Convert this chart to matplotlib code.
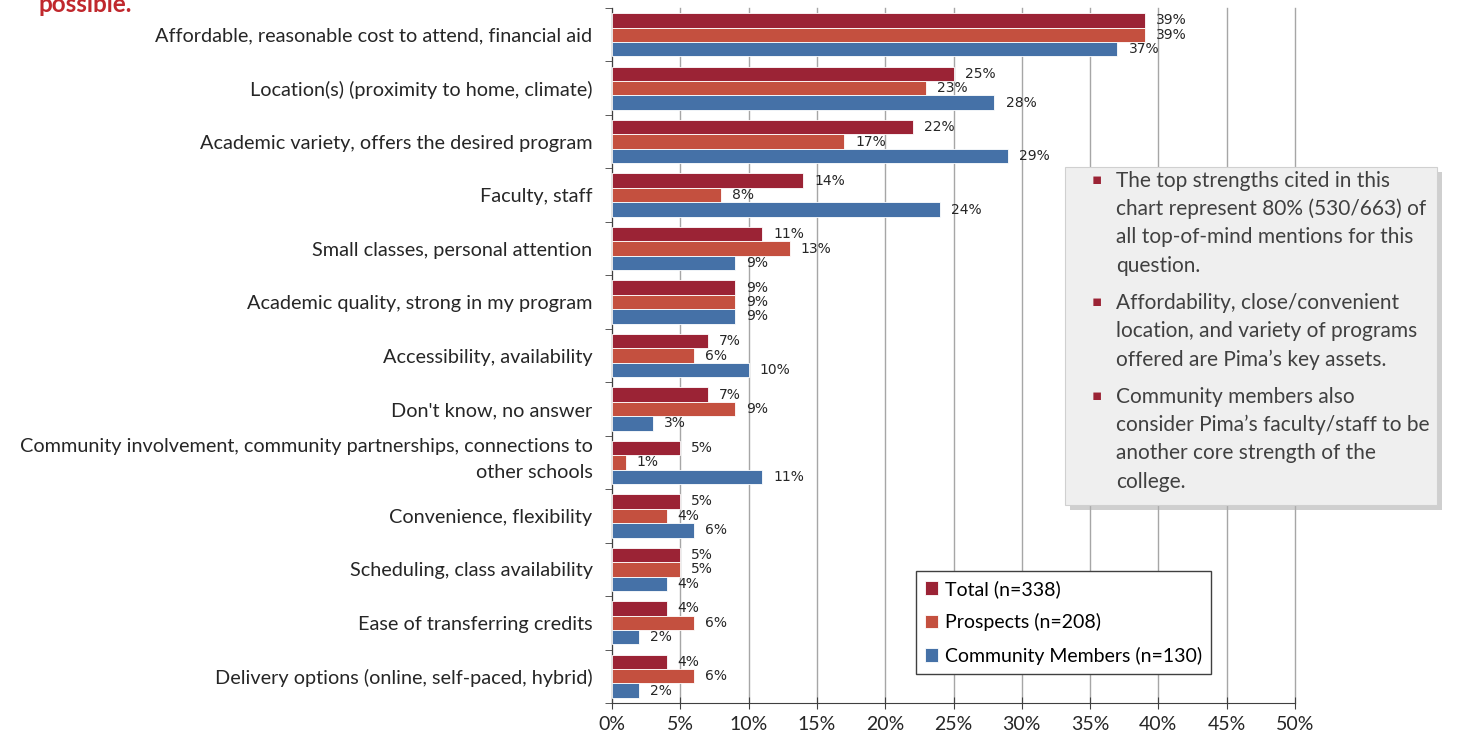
import matplotlib.pyplot as plt
import numpy as np

categories = [
    "Affordable, reasonable cost to attend, financial aid",
    "Location(s) (proximity to home, climate)",
    "Academic variety, offers the desired program",
    "Faculty, staff",
    "Small classes, personal attention",
    "Academic quality, strong in my program",
    "Accessibility, availability",
    "Don't know, no answer",
    "Community involvement, community partnerships, connections to\nother schools",
    "Convenience, flexibility",
    "Scheduling, class availability",
    "Ease of transferring credits",
    "Delivery options (online, self-paced, hybrid)",
]
total = [39, 25, 22, 14, 11, 9, 7, 7, 5, 5, 5, 4, 4]
prospects = [39, 23, 17, 8, 13, 9, 6, 9, 1, 4, 5, 6, 6]
community = [37, 28, 29, 24, 9, 9, 10, 3, 11, 6, 4, 2, 2]
series_names = ["Total (n=338)", "Prospects (n=208)", "Community Members (n=130)"]
colors = ["#9B2335", "#C4503F", "#4571A7"]

notes = [
    ["The top strengths cited in this", "chart represent 80% (530/663) of",
     "all top-of-mind mentions for this", "question."],
    ["Affordability, close/convenient", "location, and variety of programs",
     "offered are Pima\u2019s key assets."],
    ["Community members also", "consider Pima\u2019s faculty/staff to be",
     "another core strength of the", "college."],
]

W, H = 1461, 733
fig = plt.figure(figsize=(W / 100, H / 100), dpi=100)
ax = fig.add_axes([612 / W, 1 - 703 / H, (1295 - 612) / W, (703 - 8) / H])

y = np.arange(len(categories))
h = 0.27
for k, (vals, off) in enumerate(zip([total, prospects, community], [-h, 0, h])):
    bars = ax.barh(y + off, vals, height=h, color=colors[k], edgecolor="white",
                   linewidth=0.6, label=series_names[k], zorder=3)
    for b, v in zip(bars, vals):
        ax.annotate(f"{v}%", (b.get_width(), b.get_y() + b.get_height() / 2),
                    xytext=(8, 0), textcoords="offset points", va="center",
                    ha="left", fontsize=10, color="#262626", zorder=4)

ax.set_xlim(0, 50)
ax.set_ylim(len(categories) - 0.5, -0.5)
ax.set_xticks(np.arange(0, 51, 5))
ax.set_xticklabels([f"{t}%" for t in range(0, 51, 5)], fontsize=14,
                   fontfamily="Lato", color="#262626")
ax.set_yticks(y)
# single-line labels as tick labels, the two-line one placed by hand
ax.set_yticklabels(["" if "\n" in c else c for c in categories], fontsize=14.3,
                   fontfamily="Lato", color="#262626")
for i, c in enumerate(categories):
    if "\n" in c:
        ax.annotate(c, (0, i), xycoords=("axes fraction", "data"),
                    xytext=(-14, 2), textcoords="offset points", ha="right",
                    va="center", fontsize=14.3, fontfamily="Lato",
                    color="#262626", linespacing=1.65)
ax.set_yticks(np.arange(-0.5, len(categories), 1), minor=True)
ax.tick_params(axis="y", which="major", length=0, pad=14)
ax.tick_params(axis="y", which="minor", length=5, color="#404040")
ax.tick_params(axis="x", length=8, direction="inout", color="#404040", pad=5)
ax.grid(axis="x", color="#A6A6A6", linewidth=1, zorder=0)
for line in ax.get_xgridlines():
    line.set_clip_on(False)
for s in ["top", "right"]:
    ax.spines[s].set_visible(False)
for s in ["left", "bottom"]:
    ax.spines[s].set_color("#404040")

leg = ax.legend(loc="upper left", bbox_to_anchor=(916 / W, 1 - 571 / H),
                bbox_transform=fig.transFigure, prop={"family": "Lato", "size": 14},
                handlelength=0.7, handleheight=0.7, handletextpad=0.35,
                labelspacing=0.8, borderpad=0.45, borderaxespad=0, fancybox=False,
                edgecolor="#404040", framealpha=1)
leg.get_frame().set_linewidth(1)
leg.set_zorder(10)

# title fragment cut off at the top
fig.text(38 / W, 1 - 12 / H, "possible.", fontsize=17.5, fontweight="bold",
         color="#C0282D", fontfamily="Lato", va="baseline")

# note box with shadow
shadow = plt.Rectangle((1070 / W, 1 - 510 / H), (1437 - 1065) / W, (505 - 167) / H,
                       transform=fig.transFigure, facecolor="#B0B0B0",
                       edgecolor="none", alpha=0.6, zorder=8)
box = plt.Rectangle((1065 / W, 1 - 505 / H), (1437 - 1065) / W, (505 - 167) / H,
                    transform=fig.transFigure, facecolor="#EFEFEF",
                    edgecolor="#D0D0D0", linewidth=0.8, zorder=9)
fig.patches.extend([shadow, box])

starts = [181, 303, 397]
for para, y0 in zip(notes, starts):
    fig.text(1092 / W, 1 - (y0 - 1) / H, "\u25aa", fontsize=11, color="#9B2335",
             va="center", ha="left", zorder=11)
    for j, line in enumerate(para):
        fig.text(1116 / W, 1 - (y0 + 28.2 * j) / H, line, fontsize=15,
                 fontfamily="Lato", color="#404040", va="center", ha="left",
                 zorder=11)

fig.savefig("out.png", dpi=100)
